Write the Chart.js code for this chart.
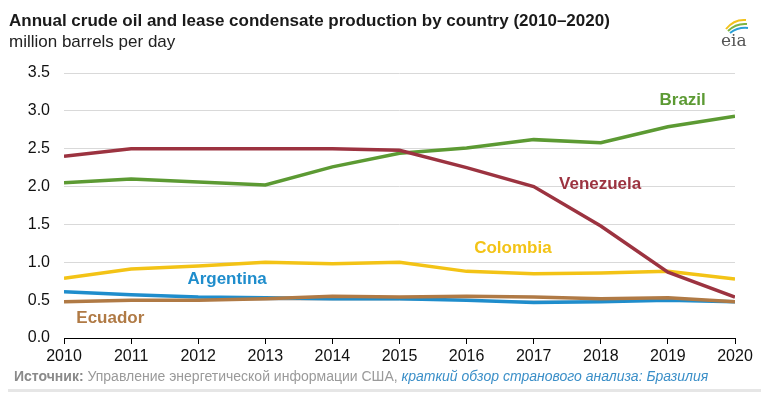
<!DOCTYPE html>
<html>
<head>
<meta charset="utf-8">
<script src="https://cdn.jsdelivr.net/npm/chart.js@4/dist/chart.umd.min.js"></script>
<style>
  body { margin: 0; background: #fff; font-family: "Liberation Sans", Arial, sans-serif; }
  #wrap { position: relative; width: 769px; height: 393px; overflow: hidden; }
  #chart { position: absolute; left: 0; top: 0; }
  #title { position: absolute; left: 9px; top: 11px; font-size: 17px; font-weight: bold; color: #1a1a1a; }
  #subtitle { position: absolute; left: 9px; top: 32px; font-size: 17px; color: #222; }
  #source { position: absolute; left: 14px; top: 368px; font-size: 14px; color: #9a9a9a; white-space: nowrap; }
  #source b { color: #8a8a8a; }
  #source i { color: #3b8fc8; }
  #rule { position: absolute; left: 8px; right: 8px; top: 389px; height: 3px; background: #e6e6e6; }
  #logo { position: absolute; left: 714px; top: 14px; }
</style>
</head>
<body>
<div id="wrap">
  <canvas id="chart" width="769" height="393"></canvas>
  <div id="title">Annual crude oil and lease condensate production by country (2010–2020)</div>
  <div id="subtitle">million barrels per day</div>
  <svg id="logo" width="40" height="34" viewBox="0 0 40 34">
    <path d="M12 15 Q20 5 32 6" stroke="#f2c21b" stroke-width="2" fill="none"/>
    <path d="M14 17 Q22 9 33 10" stroke="#7cb342" stroke-width="2" fill="none"/>
    <path d="M16 19 Q24 13 34 14" stroke="#2a9fd6" stroke-width="2" fill="none"/>
    <text x="7" y="32" font-family="DejaVu Serif, serif" font-size="17" fill="#555">eia</text>
  </svg>
  <div id="source"><b>Источник:</b> Управление энергетической информации США, <i>краткий обзор странового анализа: Бразилия</i></div>
  <div id="rule"></div>
</div>
<script>
// data
var years = [2010, 2011, 2012, 2013, 2014, 2015, 2016, 2017, 2018, 2019, 2020];
var brazil    = [2.05, 2.10, 2.06, 2.02, 2.26, 2.44, 2.51, 2.62, 2.58, 2.79, 2.93];
var venezuela = [2.40, 2.50, 2.50, 2.50, 2.50, 2.48, 2.25, 2.00, 1.48, 0.87, 0.54];
var colombia  = [0.79, 0.91, 0.95, 1.00, 0.98, 1.00, 0.88, 0.85, 0.86, 0.88, 0.78];
var argentina = [0.61, 0.57, 0.54, 0.53, 0.52, 0.52, 0.50, 0.47, 0.48, 0.50, 0.48];
var ecuador   = [0.48, 0.50, 0.50, 0.52, 0.55, 0.54, 0.55, 0.54, 0.52, 0.53, 0.48];
var yTicks = [0, 0.5, 1.0, 1.5, 2.0, 2.5, 3.0, 3.5];

// series name labels, placed in data units
var seriesLabels = [
    {text: "Brazil",    x: 2019.22, y: 3.14, color: "#5c9a33"},
    {text: "Venezuela", x: 2017.99, y: 2.03, color: "#9c3340"},
    {text: "Colombia",  x: 2016.69, y: 1.19, color: "#f3c316"},
    {text: "Argentina", x: 2012.43, y: 0.78, color: "#1f8dcc"},
    {text: "Ecuador",   x: 2010.69, y: 0.26, color: "#b07a45"}
];

function toPoints(arr) {
    return arr.map(function (v, i) { return {x: years[i], y: v}; });
}

function makeSet(label, arr, color) {
    return {
        label: label,
        data: toPoints(arr),
        borderColor: color,
        backgroundColor: color,
        borderWidth: 3.5,
        pointRadius: 0,
        tension: 0,
        fill: false
    };
}

var labelPlugin = {
    id: 'seriesLabels',
    afterDatasetsDraw: function (chart) {
        var ctx = chart.ctx;
        var xs = chart.scales.x, ys = chart.scales.y;
        ctx.save();
        ctx.font = 'bold 17px "Liberation Sans", Arial, sans-serif';
        ctx.textAlign = 'center';
        ctx.textBaseline = 'middle';
        for (var l of seriesLabels) {
            ctx.fillStyle = l.color;
            ctx.fillText(l.text, xs.getPixelForValue(l.x), ys.getPixelForValue(l.y));
        }
        ctx.restore();
    }
};

var myChart = new Chart(document.getElementById('chart'), {
    type: 'line',
    data: {
        datasets: [
            makeSet("Venezuela", venezuela, "#9c3340"),
            makeSet("Brazil", brazil, "#5c9a33"),
            makeSet("Ecuador", ecuador, "#b07a45"),
            makeSet("Argentina", argentina, "#1f8dcc"),
            makeSet("Colombia", colombia, "#f3c316")
        ]
    },
    options: {
        responsive: false,
        animation: false,
        layout: { padding: { top: 73, right: 34, left: 0, bottom: 0 } },
        plugins: { legend: { display: false }, tooltip: { enabled: false } },
        scales: {
            x: {
                type: 'linear',
                min: 2010,
                max: 2020,
                afterBuildTicks: function (scale) {
                    scale.ticks = years.map(function (y) { return {value: y}; });
                },
                afterFit: function (scale) { scale.height = 55; },
                border: { display: true, color: '#000', width: 1 },
                grid: { drawOnChartArea: false, drawTicks: true, tickLength: 6, color: '#000' },
                ticks: {
                    color: '#111',
                    padding: 3,
                    maxRotation: 0,
                    font: { family: '"Liberation Sans", Arial, sans-serif', size: 16 },
                    callback: function (v) { return String(v); }
                }
            },
            y: {
                min: 0,
                max: 3.5,
                afterBuildTicks: function (scale) {
                    scale.ticks = yTicks.map(function (v) { return {value: v}; });
                },
                afterFit: function (scale) { scale.width = 64; },
                border: { display: false },
                grid: { color: '#d9d9d9', drawTicks: false, lineWidth: 1 },
                ticks: {
                    color: '#111',
                    padding: 14,
                    font: { family: '"Liberation Sans", Arial, sans-serif', size: 16 },
                    callback: function (v) { return v.toFixed(1); }
                }
            }
        }
    },
    plugins: [labelPlugin]
});
</script>
</body>
</html>
